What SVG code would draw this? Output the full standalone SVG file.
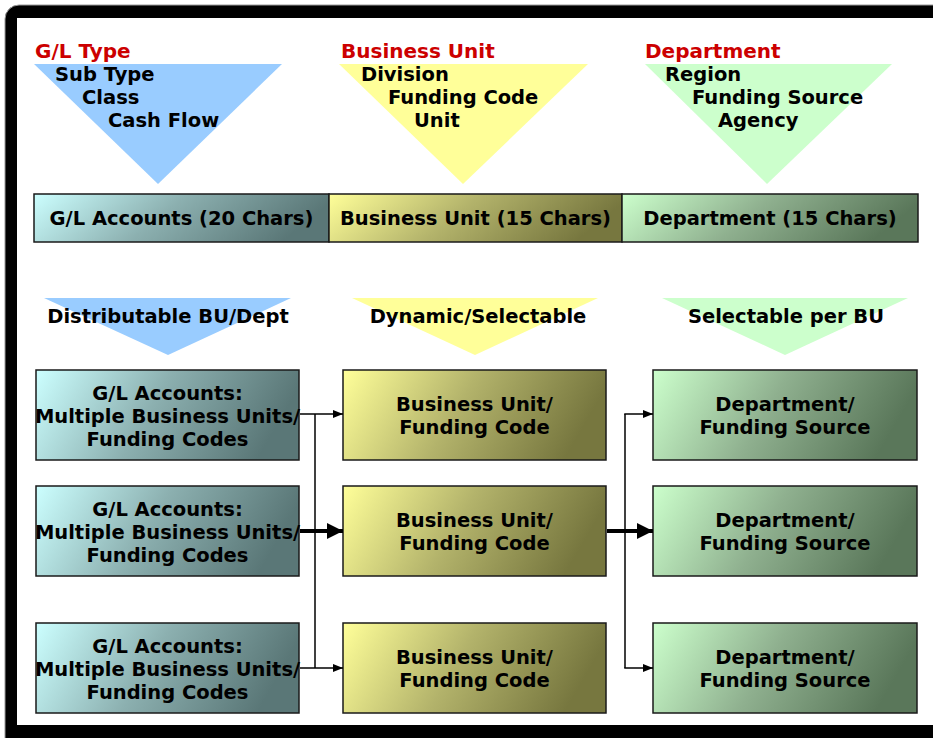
<svg xmlns="http://www.w3.org/2000/svg" width="933" height="738" viewBox="0 0 933 738">
<defs>
<style>
text{font-family:"DejaVu Sans","Verdana",sans-serif;font-weight:bold;fill:#000;}
.hd{fill:#cc0000;font-size:20px;}
.t{font-size:19.5px;}
.c{text-anchor:middle;}
.box{stroke:#1a1a1a;stroke-width:1.5;}
.ln{stroke:#000;stroke-width:1.5;fill:none;}
.lnb{stroke:#000;stroke-width:4;fill:none;}
</style>
<linearGradient id="gBlue" x1="0" y1="0" x2="1" y2="0.2">
<stop offset="0" stop-color="#ccffff"/><stop offset="0.5" stop-color="#8cb0b0"/><stop offset="1" stop-color="#5a7777"/>
</linearGradient>
<linearGradient id="gYel" x1="0" y1="0" x2="1" y2="0.2">
<stop offset="0" stop-color="#ffff99"/><stop offset="0.5" stop-color="#b3b36b"/><stop offset="1" stop-color="#77773f"/>
</linearGradient>
<linearGradient id="gGrn" x1="0" y1="0" x2="1" y2="0.2">
<stop offset="0" stop-color="#ccffcc"/><stop offset="0.5" stop-color="#8fb08f"/><stop offset="1" stop-color="#5a775a"/>
</linearGradient>
<marker id="aThin" markerUnits="userSpaceOnUse" markerWidth="10" markerHeight="10" refX="10" refY="5" orient="auto">
<path d="M0,1 L10,5 L0,9 z" fill="#000"/>
</marker>
<marker id="aThick" markerUnits="userSpaceOnUse" markerWidth="16" markerHeight="16" refX="16" refY="8" orient="auto">
<path d="M0,0 L16,8 L0,16 z" fill="#000"/>
</marker>
</defs>

<g id="frame">
<rect x="5" y="5" width="960" height="760" rx="14" fill="#000" stroke="#999" stroke-width="1"/>
<rect x="17" y="18" width="930" height="707" fill="#fff"/>
</g>

<g id="hier-gl">
<polygon points="34,64 282,64 158,184" fill="#99ccff"/>
<text class="hd" x="35" y="58">G/L Type</text>
<text class="t" x="55" y="81">Sub Type</text>
<text class="t" x="82" y="104">Class</text>
<text class="t" x="108" y="127">Cash Flow</text>
</g>
<g id="hier-bu">
<polygon points="339,64 588,64 463,184" fill="#ffff99"/>
<text class="hd" x="341" y="58">Business Unit</text>
<text class="t" x="361" y="81">Division</text>
<text class="t" x="388" y="104">Funding Code</text>
<text class="t" x="414" y="127">Unit</text>
</g>
<g id="hier-dept">
<polygon points="645,64 892,64 767,184" fill="#ccffcc"/>
<text class="hd" x="645" y="58">Department</text>
<text class="t" x="665" y="81">Region</text>
<text class="t" x="692" y="104">Funding Source</text>
<text class="t" x="718" y="127">Agency</text>
</g>

<g id="bar-gl">
<rect class="box" x="34" y="194" width="295" height="48" fill="url(#gBlue)"/>
<text class="t c" x="181.5" y="225">G/L Accounts (20 Chars)</text>
</g>
<g id="bar-bu">
<rect class="box" x="329" y="194" width="293" height="48" fill="url(#gYel)"/>
<text class="t c" x="475.5" y="225">Business Unit (15 Chars)</text>
</g>
<g id="bar-dept">
<rect class="box" x="622" y="194" width="296" height="48" fill="url(#gGrn)"/>
<text class="t c" x="770" y="225">Department (15 Chars)</text>
</g>

<g id="tri-dist">
<polygon points="44,298 291,298 168,355" fill="#99ccff"/>
<text class="t c" x="168" y="323">Distributable BU/Dept</text>
</g>
<g id="tri-dyn">
<polygon points="352,298 598,298 475,355" fill="#ffff99"/>
<text class="t c" x="478" y="323">Dynamic/Selectable</text>
</g>
<g id="tri-sel">
<polygon points="662,298 908,298 785,355" fill="#ccffcc"/>
<text class="t c" x="786" y="323">Selectable per BU</text>
</g>

<g id="gl1">
<rect class="box" x="36" y="370" width="263" height="90" fill="url(#gBlue)"/>
<text class="t c" x="167.5" y="400">G/L Accounts:</text>
<text class="t c" x="167.5" y="423">Multiple Business Units/</text>
<text class="t c" x="167.5" y="446">Funding Codes</text>
</g>
<g id="gl2">
<rect class="box" x="36" y="486" width="263" height="90" fill="url(#gBlue)"/>
<text class="t c" x="167.5" y="516">G/L Accounts:</text>
<text class="t c" x="167.5" y="539">Multiple Business Units/</text>
<text class="t c" x="167.5" y="562">Funding Codes</text>
</g>
<g id="gl3">
<rect class="box" x="36" y="623" width="263" height="90" fill="url(#gBlue)"/>
<text class="t c" x="167.5" y="653">G/L Accounts:</text>
<text class="t c" x="167.5" y="676">Multiple Business Units/</text>
<text class="t c" x="167.5" y="699">Funding Codes</text>
</g>

<g id="bu1">
<rect class="box" x="343" y="370" width="263" height="90" fill="url(#gYel)"/>
<text class="t c" x="474.5" y="411">Business Unit/</text>
<text class="t c" x="474.5" y="434">Funding Code</text>
</g>
<g id="bu2">
<rect class="box" x="343" y="486" width="263" height="90" fill="url(#gYel)"/>
<text class="t c" x="474.5" y="527">Business Unit/</text>
<text class="t c" x="474.5" y="550">Funding Code</text>
</g>
<g id="bu3">
<rect class="box" x="343" y="623" width="263" height="90" fill="url(#gYel)"/>
<text class="t c" x="474.5" y="664">Business Unit/</text>
<text class="t c" x="474.5" y="687">Funding Code</text>
</g>

<g id="dept1">
<rect class="box" x="653" y="370" width="264" height="90" fill="url(#gGrn)"/>
<text class="t c" x="785" y="411">Department/</text>
<text class="t c" x="785" y="434">Funding Source</text>
</g>
<g id="dept2">
<rect class="box" x="653" y="486" width="264" height="90" fill="url(#gGrn)"/>
<text class="t c" x="785" y="527">Department/</text>
<text class="t c" x="785" y="550">Funding Source</text>
</g>
<g id="dept3">
<rect class="box" x="653" y="623" width="264" height="90" fill="url(#gGrn)"/>
<text class="t c" x="785" y="664">Department/</text>
<text class="t c" x="785" y="687">Funding Source</text>
</g>

<g id="connectors">
<line class="ln" x1="300" y1="414" x2="343" y2="414" marker-end="url(#aThin)"/>
<line class="ln" x1="315" y1="414" x2="315" y2="668"/>
<line class="ln" x1="300" y1="668" x2="343" y2="668" marker-end="url(#aThin)"/>
<line class="lnb" x1="300" y1="531" x2="343" y2="531" marker-end="url(#aThick)"/>
<line class="lnb" x1="607" y1="531" x2="653" y2="531" marker-end="url(#aThick)"/>
<line class="ln" x1="625" y1="414" x2="625" y2="668"/>
<line class="ln" x1="624.25" y1="414" x2="653" y2="414" marker-end="url(#aThin)"/>
<line class="ln" x1="624.25" y1="668" x2="653" y2="668" marker-end="url(#aThin)"/>
</g>
</svg>
